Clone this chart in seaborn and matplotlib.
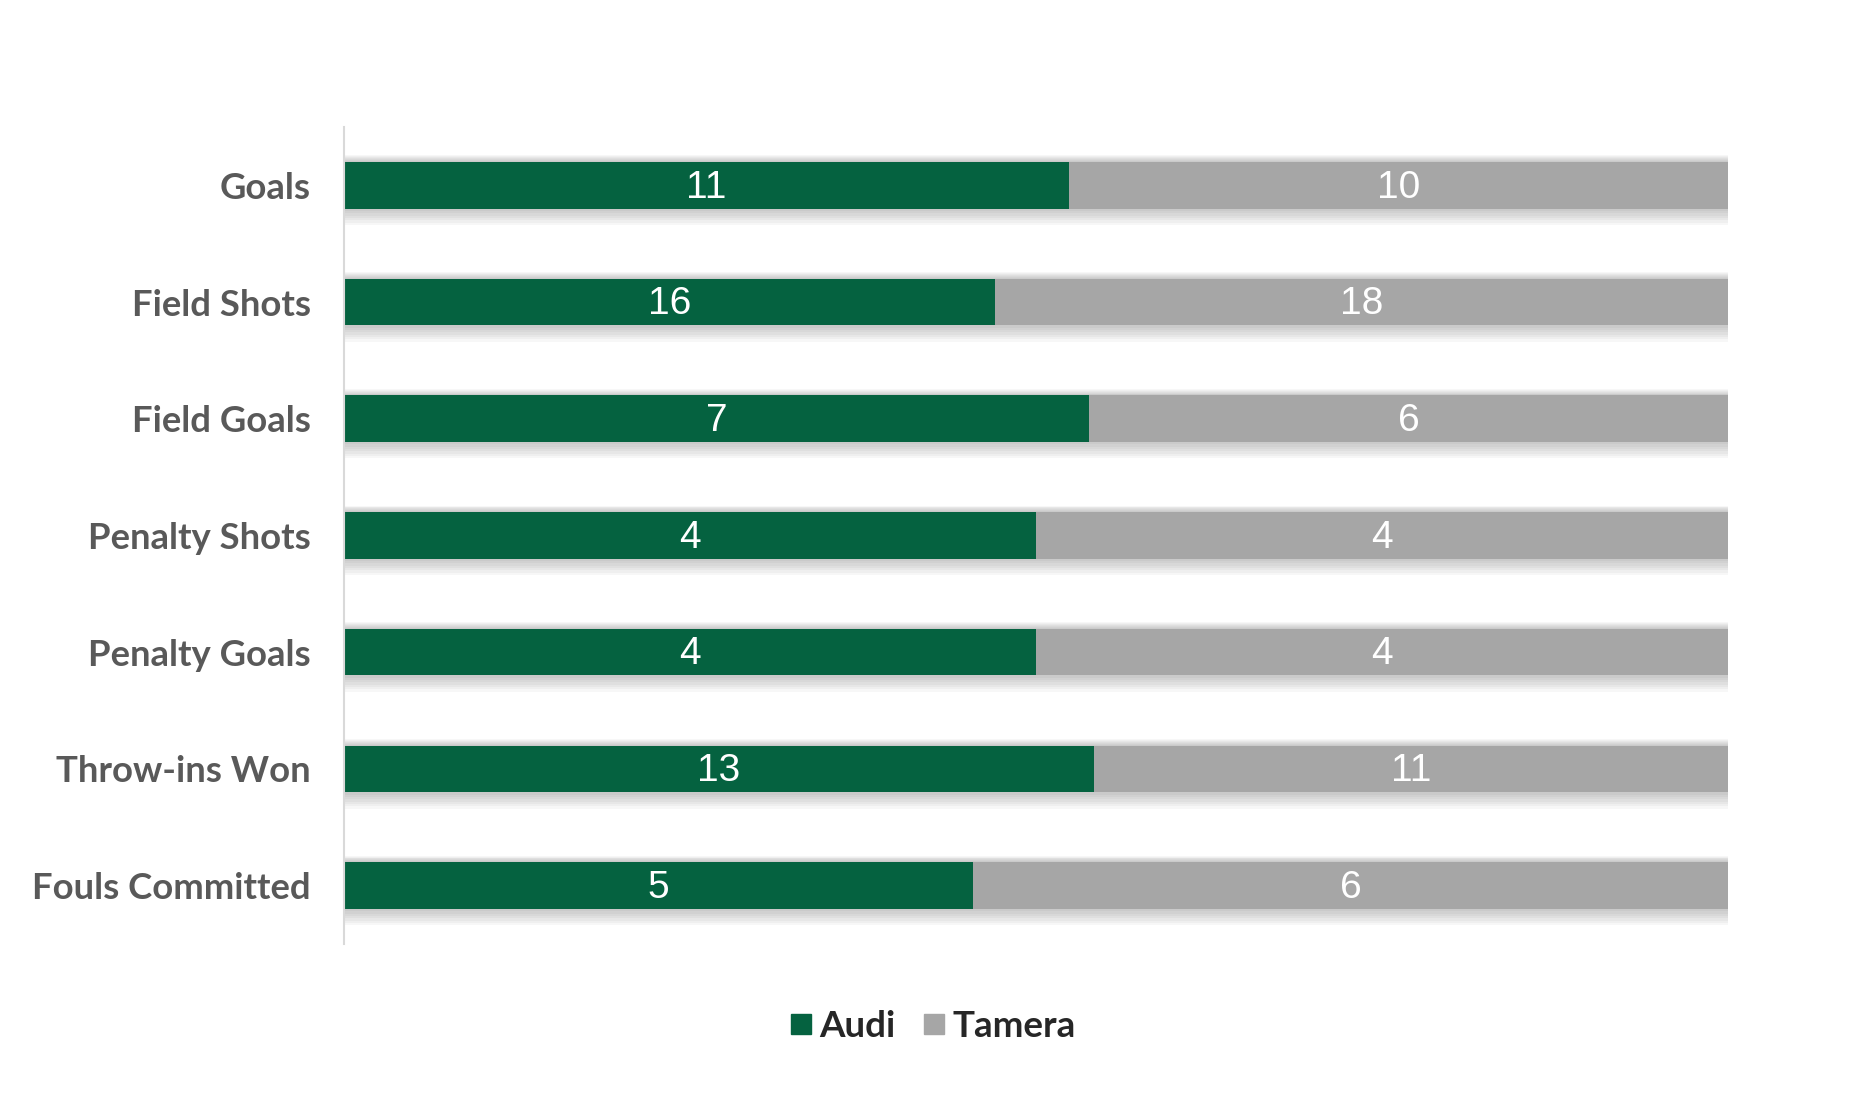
import matplotlib
matplotlib.use("Agg")
import matplotlib.pyplot as plt
import seaborn as sns
import pandas as pd
import numpy as np
from matplotlib.lines import Line2D

categories = ["Goals", "Field Shots", "Field Goals", "Penalty Shots",
              "Penalty Goals", "Throw-ins Won", "Fouls Committed"]
audi = [11, 16, 7, 4, 4, 13, 5]
tamera = [10, 18, 6, 4, 4, 11, 6]
series_names = ["Audi", "Tamera"]

GREEN = "#056240"
GRAY = "#A6A6A6"

sns.set_theme(style="white")
plt.rcParams['font.family'] = ['Lato', 'DejaVu Sans']

df = pd.DataFrame({"cat": categories, "audi": audi, "tamera": tamera})
df["total"] = df["audi"] + df["tamera"]
df["audi_share"] = df["audi"] / df["total"]
df["full"] = 1.0

fig = plt.figure(figsize=(18.51, 10.95), dpi=100)
ax = fig.add_axes([0.186, 0.138, 0.7475, 0.746])

# soft shadow layers
for k in range(1, 8):
    sns.barplot(data=df, y="cat", x="full", orient="h", color="black",
                width=0.4 + 0.028 * k, alpha=0.03, ax=ax, zorder=1,
                linewidth=0, saturation=1)
    for p in ax.patches[-len(df):]:
        p.set_y(p.get_y() + 0.006 * k)
        p.set_x(-0.002 * k)
        p.set_width(1 + 0.004 * k)

sns.barplot(data=df, y="cat", x="full", orient="h", color=GRAY,
            width=0.4, ax=ax, zorder=3, linewidth=0, saturation=1)
sns.barplot(data=df, y="cat", x="audi_share", orient="h", color=GREEN,
            width=0.4, ax=ax, zorder=4, linewidth=0, saturation=1)

vfont = ["Liberation Sans", "DejaVu Sans"]
for i, row in df.iterrows():
    ax.text(row["audi_share"] / 2, i + 0.02, str(row["audi"]), ha="center", va="center",
            color="white", fontsize=28, family=vfont, zorder=5)
    ax.text(row["audi_share"] + (1 - row["audi_share"]) / 2, i + 0.02, str(row["tamera"]),
            ha="center", va="center", color="white", fontsize=28,
            family=vfont, zorder=5)

ax.set_xlim(0, 1)
ax.set_ylim(6.5, -0.5)
ax.set_xlabel("")
ax.set_ylabel("")
ax.set_xticks([])
ax.tick_params(axis="y", length=0, pad=24)
for lab in ax.get_yticklabels():
    lab.set_fontsize(26.3)
    lab.set_fontweight("bold")
    lab.set_color("#595959")
for s in ["top", "right", "bottom"]:
    ax.spines[s].set_visible(False)
ax.spines["left"].set_color("#D9D9D9")
ax.spines["left"].set_linewidth(1.5)
ax.spines["left"].set_zorder(6)

handles = [Line2D([], [], marker="s", linestyle="", markersize=14, color=GREEN),
           Line2D([], [], marker="s", linestyle="", markersize=14, color=GRAY)]
fig.legend(handles, series_names, loc="center", bbox_to_anchor=(0.4995, 0.063),
           ncol=2, frameon=False, handletextpad=-0.25, columnspacing=0.3,
           handlelength=1.5,
           prop={"size": 26.5, "weight": "bold", "family": ["Lato", "DejaVu Sans"]})

fig.savefig("out.png", dpi=100, facecolor="white")
